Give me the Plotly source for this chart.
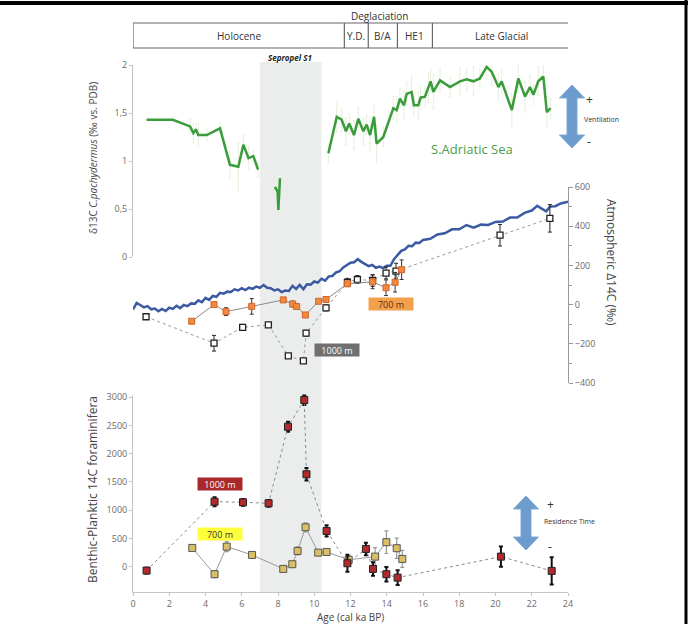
import plotly.graph_objects as go

# ---------------- data ----------------
# delta13C C. pachydermus (top panel)
d13c_age = [0.75, 2.2, 3.15, 3.33, 3.48, 3.6, 4.07, 4.8, 5.35, 5.81, 6.09, 6.37, 6.64, 6.9, None,
            7.83, 7.98, 8.02, 8.11, None,
            10.78, 11.24, 11.51, 11.75, 11.93, 12.19, 12.43, 12.71, 12.89, 13.08, 13.3, 13.44, 13.81,
            14.36, 14.55, 14.73, 14.95, 15.1, 15.37, 15.5, 15.74, 15.87, 16.11, 16.3, 16.42, 16.57,
            16.94, 17.49, 18.04, 18.41, 18.78, 19.14, 19.51, 19.79, 20.16, 20.34, 20.9, 21.26, 21.63,
            21.9, 22.09, 22.36, 22.64, 22.83, 23.04]
d13c_val = [1.43, 1.43, 1.36, 1.29, 1.33, 1.27, 1.27, 1.34, 0.96, 0.94, 1.17, 1.03, 1.05, 0.91, None,
            0.73, 0.68, 0.49, 0.82, None,
            1.08, 1.46, 1.43, 1.31, 1.39, 1.27, 1.44, 1.31, 1.38, 1.27, 1.46, 1.18, 1.25,
            1.55, 1.53, 1.65, 1.58, 1.70, 1.72, 1.58, 1.58, 1.66, 1.67, 1.76, 1.83, 1.72,
            1.84, 1.77, 1.83, 1.85, 1.83, 1.86, 1.98, 1.93, 1.77, 1.83, 1.53, 1.86, 1.67,
            1.77, 1.69, 1.83, 1.88, 1.51, 1.55]
d13c_err = [0.0, 0.02, 0.08, 0.1, 0.05, 0.12, 0.06, 0.05, 0.14, 0.25, 0.1, 0.12, 0.06, 0.08, None,
            0.1, 0.12, 0.3, 0.06, None,
            0.1, 0.16, 0.12, 0.14, 0.1, 0.15, 0.12, 0.14, 0.1, 0.16, 0.12, 0.2, 0.1,
            0.12, 0.14, 0.1, 0.15, 0.12, 0.16, 0.1, 0.14, 0.12, 0.1, 0.15, 0.12, 0.18,
            0.12, 0.1, 0.14, 0.12, 0.15, 0.1, 0.12, 0.15, 0.14, 0.12, 0.18, 0.14, 0.16,
            0.12, 0.1, 0.15, 0.12, 0.16, 0.1]

# Atmospheric D14C (middle panel, blue)
atm_age = [0.0, 0.2, 0.4, 0.6, 0.8, 1.0, 1.2, 1.4, 1.6, 1.8, 2.0, 2.2, 2.4, 2.6, 2.8, 3.0, 3.2, 3.4,
           3.6, 3.8, 4.0, 4.2, 4.4, 4.6, 4.8, 5.0, 5.2, 5.4, 5.6, 5.8, 6.0, 6.2, 6.4, 6.6, 6.8, 7.0,
           7.2, 7.4, 7.6, 7.8, 8.0, 8.2, 8.4, 8.6, 8.8, 9.0, 9.2, 9.4, 9.6, 9.8, 10.0, 10.2, 10.4,
           10.6, 10.8, 11.0, 11.2, 11.4, 11.6, 11.8, 12.0, 12.2, 12.4, 12.6, 12.8, 13.0, 13.2, 13.4,
           13.6, 13.8, 14.0, 14.2, 14.4, 14.6, 14.8, 15.0, 15.2, 15.4, 15.6, 15.8, 16.0, 16.4, 16.8,
           17.2, 17.6, 18.0, 18.4, 18.8, 19.2, 19.6, 20.0, 20.4, 20.8, 21.2, 21.6, 22.0, 22.3, 22.5,
           22.8, 23.0, 23.3, 23.6, 24.0]
atm_val = [-25, 8, -2, -14, -8, -24, -20, -34, -22, -32, -16, -22, -6, -18, -2, -8, 6, 4,
           22, 12, 34, 24, 44, 40, 60, 56, 66, 64, 78, 72, 84, 74, 86, 80, 92, 86,
           100, 86, 84, 72, 78, 64, 72, 70, 96, 80, 100, 78, 104, 102, 118, 112, 132,
           122, 144, 146, 164, 170, 190, 200, 214, 216, 232, 218, 208, 196, 202, 188,
           194, 186, 198, 198, 232, 252, 274, 282, 300, 298, 316, 314, 330, 336, 358,
           364, 384, 384, 406, 392, 408, 406, 422, 424, 444, 444, 468, 480, 504, 492,
           476, 500, 502, 516, 525]

# D14C 700 m (orange) and 1000 m (open squares)
d14_700_age = [3.24, 4.47, 5.13, 6.55, 8.29, 8.81, 9.03, 9.51, 10.24, 10.65, 11.83, 13.22, 13.96, 14.46, 14.82]
d14_700_val = [-85, 0, -36, -9, 24, 3, -10, -53, 17, 26, 106, 116, 86, 114, 178]
d14_700_err = [8, 10, 20, 40, 5, 15, 15, 8, 6, 8, 10, 35, 40, 50, 50]
d14_1000_age = [0.72, 4.47, 6.05, 7.47, 8.57, 9.4, 9.55, 10.65, 11.83, 12.38, 13.22, 13.96, 14.51, 20.25, 23.0]
d14_1000_val = [-62, -197, -116, -103, -262, -287, -146, -17, 114, 128, 123, 161, 171, 354, 440]
d14_1000_err = [6, 40, 15, 6, 6, 6, 15, 15, 20, 20, 30, 30, 40, 55, 70]

# Benthic-planktic 14C age offsets (bottom panel)
bp_1000_age = [0.75, 4.5, 6.07, 7.48, 8.55, 9.45, 9.57, 10.68, 11.83, 12.85, 13.24, 13.98, 14.6, 20.3, 23.1]
bp_1000_val = [-70, 1151, 1140, 1122, 2479, 2952, 1636, 632, 60, 313, -41, -135, -195, 177, -76]
bp_1000_err = [50, 80, 60, 60, 90, 90, 110, 100, 150, 110, 120, 130, 130, 180, 240]
bp_700_age = [3.27, 4.5, 5.17, 6.57, 8.29, 8.79, 9.08, 9.52, 10.22, 10.68, 11.9, 13.36, 13.98, 14.55, 14.86]
bp_700_val = [331, -135, 354, 207, -41, 42, 278, 697, 248, 260, 120, 177, 432, 326, 136]
bp_700_err = [40, 60, 90, 50, 40, 50, 70, 80, 30, 40, 80, 160, 200, 180, 150]

# chronozones
zone_bounds = [0, 11.66, 12.98, 14.59, 16.52, 24.1]
zone_names = ["Holocene", "Y.D.", "B/A", "HE1", "Late Glacial"]
sapropel = [7.0, 10.4]

# ---------------- helpers (pixel -> paper) ----------------
W, H = 691, 624
L, R = 133, 568
def px(x):
    return (x - L) / (R - L)
def py(y):
    return 1 - y / H

FONT = "Open Sans"
TICKC = "#6a6a6a"
AXC = "#c4c4c4"

fig = go.Figure()

# top panel
fig.add_trace(go.Scatter(x=d13c_age, y=d13c_val, mode="lines", yaxis="y",
                         line=dict(color="#e3eed8", width=1),
                         error_y=dict(type="data", array=d13c_err, color="#e6f0dc", thickness=1, width=1),
                         hoverinfo="skip", showlegend=False))
fig.add_trace(go.Scatter(x=d13c_age, y=d13c_val, mode="lines", yaxis="y",
                         line=dict(color="#3a9c3a", width=2.5), showlegend=False))

# middle panel
fig.add_trace(go.Scatter(x=atm_age, y=atm_val, mode="lines", yaxis="y2",
                         line=dict(color="#3c5aa2", width=2.5), showlegend=False))
fig.add_trace(go.Scatter(x=d14_1000_age, y=d14_1000_val, mode="lines+markers", yaxis="y2",
                         line=dict(color="#9a9a9a", width=1, dash="dot"),
                         marker=dict(symbol="square", size=6, color="white", line=dict(color="#222", width=1.3)),
                         error_y=dict(type="data", array=d14_1000_err, color="#222", thickness=1, width=2),
                         showlegend=False))
fig.add_trace(go.Scatter(x=d14_700_age, y=d14_700_val, mode="lines+markers", yaxis="y2",
                         line=dict(color="#8a8a8a", width=1),
                         marker=dict(symbol="square", size=6, color="#ef8a3e", line=dict(color="#d2652a", width=1)),
                         error_y=dict(type="data", array=d14_700_err, color="#333", thickness=1, width=2),
                         showlegend=False))

# bottom panel
fig.add_trace(go.Scatter(x=bp_700_age, y=bp_700_val, mode="lines+markers", yaxis="y3",
                         line=dict(color="#9a9a9a", width=1),
                         marker=dict(symbol="square", size=7, color="#d9c064", line=dict(color="#555", width=1)),
                         error_y=dict(type="data", array=bp_700_err, color="#999", thickness=1.2, width=2),
                         showlegend=False))
fig.add_trace(go.Scatter(x=bp_1000_age, y=bp_1000_val, mode="lines+markers", yaxis="y3",
                         line=dict(color="#8a8a8a", width=1, dash="dot"),
                         marker=dict(symbol="square", size=7, color="#b02a2e", line=dict(color="#222", width=1)),
                         error_y=dict(type="data", array=bp_1000_err, color="#111", thickness=2, width=2),
                         showlegend=False))

shapes = []
# sapropel shading
shapes.append(dict(type="rect", xref="x", yref="paper", x0=sapropel[0], x1=sapropel[1],
                   y0=py(593), y1=py(62), fillcolor="#ebeded", line=dict(width=0), layer="below"))
# chronozone boxes
shapes.append(dict(type="rect", xref="x", yref="paper", x0=zone_bounds[0], x1=zone_bounds[-1],
                   y0=py(48), y1=py(23), line=dict(color="#666", width=1.2)))
for b in zone_bounds[1:-1]:
    shapes.append(dict(type="line", xref="x", yref="paper", x0=b, x1=b, y0=py(48), y1=py(23),
                       line=dict(color="#666", width=1.2)))
# frame lines
shapes.append(dict(type="line", xref="paper", yref="paper", x0=px(0), x1=px(688), y0=py(3), y1=py(3),
                   line=dict(color="black", width=4)))
shapes.append(dict(type="line", xref="paper", yref="paper", x0=px(686), x1=px(686), y0=py(0), y1=py(624),
                   line=dict(color="black", width=3)))

def block_arrow(cx, top, bot, shaft=10, head=25, hl=13, color="#6b9ccd"):
    pts = [(cx, top), (cx + head / 2, top + hl), (cx + shaft / 2, top + hl), (cx + shaft / 2, bot - hl),
           (cx + head / 2, bot - hl), (cx, bot), (cx - head / 2, bot - hl), (cx - shaft / 2, bot - hl),
           (cx - shaft / 2, top + hl), (cx - head / 2, top + hl)]
    path = "M " + " L ".join(f"{px(a):.5f},{py(b):.5f}" for a, b in pts) + " Z"
    return dict(type="path", xref="paper", yref="paper", path=path, fillcolor=color,
                line=dict(color="#7fa9d4", width=1))

shapes.append(block_arrow(572, 85, 148))
shapes.append(block_arrow(526, 496, 550))

ann = []
def txt(x, y, s, size=10, color="#333", xanchor="center", **kw):
    ann.append(dict(x=px(x), y=py(y), xref="paper", yref="paper", text=s, showarrow=False,
                    xanchor=xanchor, yanchor="middle",
                    font=dict(size=size, color=color, family=FONT), **kw))

txt(380, 16, "Deglaciation", 10)
for i, n in enumerate(zone_names):
    c = (zone_bounds[i] + zone_bounds[i + 1]) / 2
    ann.append(dict(x=c, y=py(36), xref="x", yref="paper", text=n, showarrow=False,
                    xanchor="center", yanchor="middle",
                    font=dict(size=10, color="#333", family=FONT)))
txt(290, 57, "<b><i>Sepropel S1</i></b>", 8, "#222")
txt(472, 149, "S.Adriatic Sea", 13, "#4a9f4a")
txt(589, 99, "+", 12, "#333")
txt(589, 142, "-", 12, "#333")
txt(582, 119, "Ventilation", 7, "#333", xanchor="left")
txt(550, 504, "+", 12, "#333")
txt(550, 546, "-", 12, "#333")
txt(542, 521, "Residence Time", 7, "#333", xanchor="left")
txt(612, 262, "Atmospheric Δ14C (‰)", 12, "#444", textangle=90)
txt(93, 158, "δ13C <i>C.pachydermus</i> (‰ vs. PDB)", 10, "#444", textangle=-90)
txt(92, 490, "Benthic-Planktic 14C foraminifera", 12, "#444", textangle=-90)
txt(350, 617, "Age (cal ka BP)", 10, "#444")
# series labels
def label(x, y, s, bg, fg):
    ann.append(dict(x=px(x), y=py(y), xref="paper", yref="paper", text=s, showarrow=False,
                    xanchor="center", yanchor="middle",
                    font=dict(size=9, color=fg, family=FONT), bgcolor=bg, width=42, height=10))

label(391, 304, "700 m", "#f3a04c", "#5a3210")
label(337, 350, "1000 m", "#707070", "white")
label(220, 484, "1000 m", "#a8282b", "white")
label(220, 534, "700 m", "#ffff3c", "#333")

tickfont = dict(size=9, color=TICKC, family=FONT)
fig.update_layout(
    width=W, height=H, margin=dict(l=L, r=W - R, t=0, b=0, autoexpand=False),
    paper_bgcolor="white", plot_bgcolor="rgba(0,0,0,0)",
    showlegend=False,
    xaxis=dict(range=[0, 24], domain=[0, 1], anchor="y3", tickvals=list(range(0, 25, 2)),
               automargin=False,
               showgrid=False, zeroline=False, showline=True, linecolor=AXC, linewidth=1,
               ticks="outside", ticklen=3, tickcolor=AXC, tickfont=tickfont),
    yaxis=dict(range=[0, 2], domain=[py(257), py(65)], anchor="x", side="left", automargin=False,
               tickvals=[0, 0.5, 1, 1.5, 2], ticktext=["0", "0,5", "1", "1,5", "2"],
               showgrid=False, zeroline=False, showline=True, linecolor=AXC, linewidth=1,
               ticks="outside", ticklen=3, tickcolor=AXC, tickfont=tickfont),
    yaxis2=dict(range=[-400, 600], domain=[py(383), py(187)], anchor="x", side="right", automargin=False,
                tickvals=[-400, -200, 0, 200, 400, 600],
                minor=dict(dtick=100, ticks="outside", ticklen=3, tickcolor="#999"),
                showgrid=False, zeroline=False, showline=True, linecolor="#999", linewidth=1,
                ticks="outside", ticklen=4, tickcolor="#999", tickfont=tickfont),
    yaxis3=dict(range=[-450, 3050], domain=[py(592), py(394.5)], anchor="x", side="left", automargin=False,
                tickvals=[0, 500, 1000, 1500, 2000, 2500, 3000],
                showgrid=False, zeroline=False, showline=True, linecolor=AXC, linewidth=1,
                ticks="outside", ticklen=3, tickcolor=AXC, tickfont=tickfont),
    shapes=shapes, annotations=ann,
)

fig.write_html("out.html", config={"displayModeBar": False},
               post_script="document.body.style.margin='0';")
